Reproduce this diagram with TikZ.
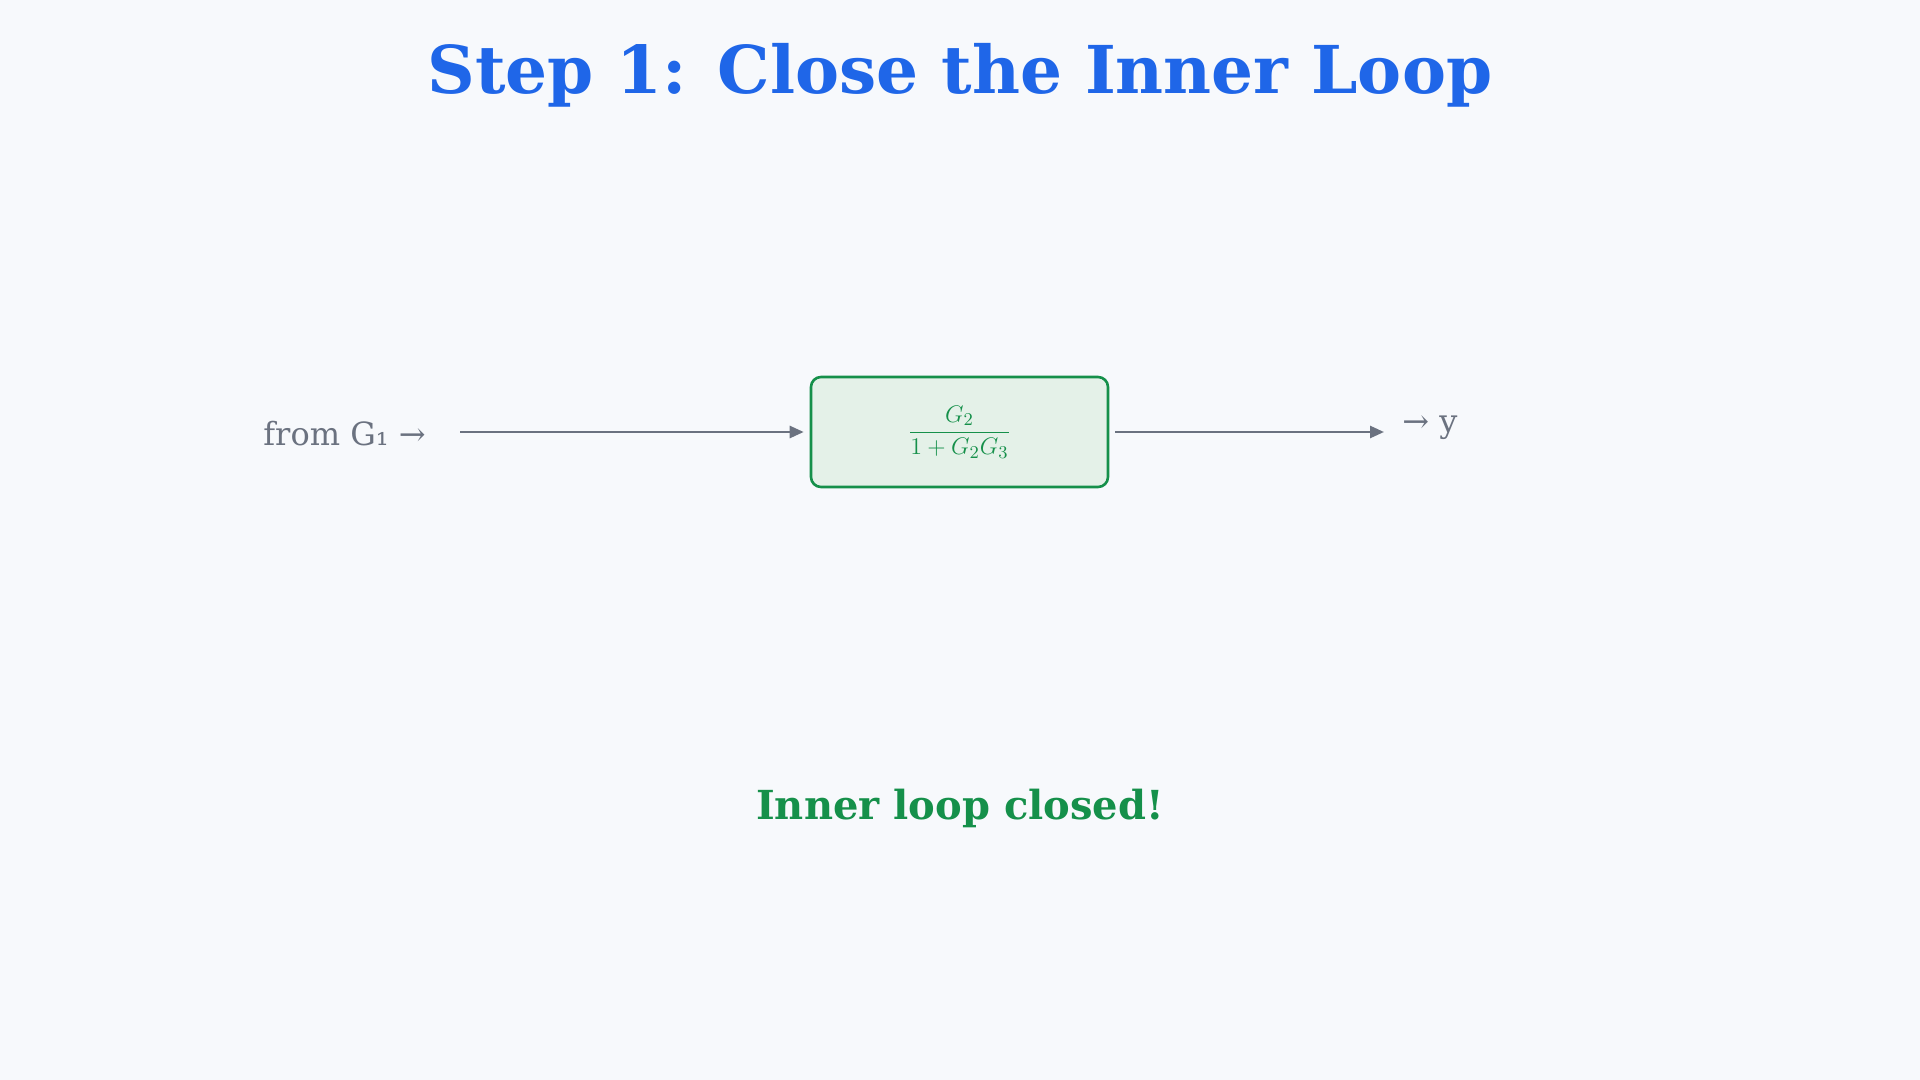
\documentclass[tikz,border=0pt]{standalone}
\usepackage{fontspec}
\setmainfont{DejaVu Serif}
\usetikzlibrary{arrows.meta}
\definecolor{bg}{HTML}{F7F9FC}
\definecolor{ttl}{HTML}{1F66E8}
\definecolor{grn}{HTML}{15904A}
\definecolor{gfill}{HTML}{E4F1E8}
\definecolor{gry}{HTML}{6B7280}
\begin{document}
\begin{tikzpicture}[x=0.5pt,y=-0.5pt,
  conn/.style={draw=gry,line width=1.3pt,-{Triangle[length=7pt,width=6pt]}},
  lbl/.style={text=gry,font=\fontsize{16}{18}\selectfont,inner sep=0pt}]
\fill[bg] (0,0) rectangle (1920,1080);
\useasboundingbox (0,0) rectangle (1920,1080);
\node[text=ttl,font=\bfseries\fontsize{33}{38}\selectfont] (title) at (960,75) {Step 1: Close the Inner Loop};
\node[draw=grn,fill=gfill,line width=1.3pt,rounded corners=5pt,minimum width=148.5pt,minimum height=55pt,text=grn,font=\fontsize{13}{15}\selectfont] (box) at (959.5,432) {$\displaystyle\frac{G_2}{1+G_2G_3}$};
\node[lbl,anchor=west] (from) at (263,434) {from G₁ →};
\node[lbl,anchor=west] (y) at (1402,428) {→ y};
\coordinate (a1) at (460,432);
\coordinate (b2) at (1384,432);
\draw[conn] (a1) -- ([xshift=-3pt]box.west);
\draw[conn] ([xshift=3pt]box.east) -- (b2);
\node[text=grn,font=\bfseries\fontsize{20}{24}\selectfont] (done) at (960,808) {Inner loop closed!};
\end{tikzpicture}
\end{document}
